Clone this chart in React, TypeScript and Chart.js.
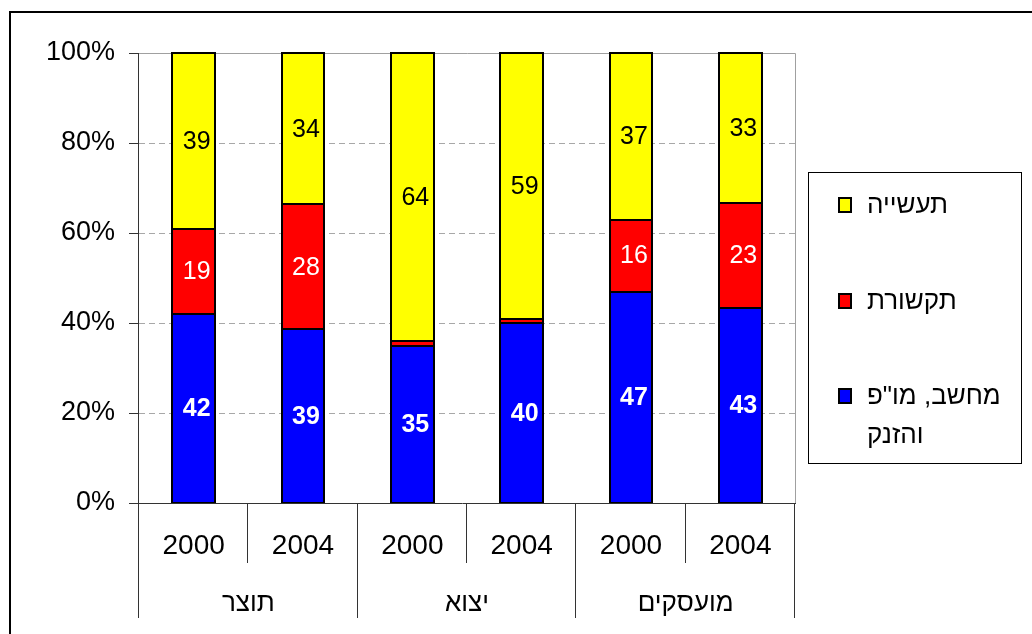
import React, { useEffect, useRef } from "react";
import { Chart, registerables } from "chart.js";

Chart.register(...registerables);

const years = ["2000", "2004", "2000", "2004", "2000", "2004"];
const groups = ["תוצר", "יצוא", "מועסקים"];
const seriesNames = ['מחשב, מו"פ והזנק', "תקשורת", "תעשייה"];
const legendLines = [['מחשב, מו"פ', "והזנק"], ["תקשורת"], ["תעשייה"]];
const blueValues = [42, 39, 35, 40, 47, 43];
const redValues = [19, 28, 1, 1, 16, 23];
const yellowValues = [39, 34, 64, 59, 37, 33];
const seriesColors = ["#0000FF", "#FF0000", "#FFFF00"];
const yTicks = [0, 20, 40, 60, 80, 100];

const FONT = '"Liberation Sans", Arial, sans-serif';

export default function App() {
  const ref = useRef<HTMLCanvasElement | null>(null);

  useEffect(() => {
    const canvas = ref.current;
    if (!canvas) return;
    const raw = [blueValues, redValues, yellowValues];
    const totals = years.map((_, i) => raw.reduce((s, arr) => s + arr[i], 0));
    const pct = raw.map((arr) => arr.map((v, i) => (v / totals[i]) * 100));

    const labelStyles = [
      { color: "#FFFFFF", weight: "bold" },
      { color: "#FFFFFF", weight: "normal" },
      { color: "#000000", weight: "normal" },
    ];

    const framePlugin = {
      id: "framePlugin",
      beforeDraw(chart: any) {
        const ctx = chart.ctx;
        ctx.save();
        ctx.fillStyle = "#FFFFFF";
        ctx.fillRect(0, 0, chart.width, chart.height);
        ctx.fillStyle = "#000000";
        ctx.fillRect(9, 11, 2, chart.height - 11);
        ctx.fillRect(9, 11, chart.width - 9, 2);
        ctx.restore();
      },
      beforeDatasetsDraw(chart: any) {
        const ctx = chart.ctx;
        const a = chart.chartArea;
        ctx.save();
        ctx.strokeStyle = "#A0A0A0";
        ctx.lineWidth = 1;
        ctx.beginPath();
        ctx.moveTo(Math.round(a.left), Math.round(a.top) + 0.5);
        ctx.lineTo(Math.round(a.right) + 0.5, Math.round(a.top) + 0.5);
        ctx.lineTo(Math.round(a.right) + 0.5, Math.round(a.bottom));
        ctx.stroke();
        ctx.restore();
      },
      afterDatasetsDraw(chart: any) {
        const ctx = chart.ctx;
        const a = chart.chartArea;
        const xs = chart.scales.x;
        ctx.save();

        ctx.strokeStyle = "#000000";
        ctx.lineWidth = 2;
        chart.data.datasets.forEach((_: any, di: number) => {
          const meta = chart.getDatasetMeta(di);
          meta.data.forEach((el: any) => {
            const p = el.getProps(["x", "y", "base", "width"], true);
            const l = Math.round(p.x - p.width / 2);
            const r = Math.round(p.x + p.width / 2);
            ctx.strokeRect(l, Math.round(p.y), r - l, Math.round(p.base) - Math.round(p.y));
          });
        });

        ctx.strokeStyle = "#333333";
        ctx.lineWidth = 1;
        ctx.beginPath();
        ctx.moveTo(Math.round(a.left) - 0.5, Math.round(a.top));
        ctx.lineTo(Math.round(a.left) - 0.5, Math.round(a.bottom));
        ctx.moveTo(Math.round(a.left) - 10, Math.round(a.bottom) + 0.5);
        ctx.lineTo(Math.round(a.right) + 1, Math.round(a.bottom) + 0.5);
        ctx.stroke();

        const half = (a.right - a.left) / years.length / 2;
        ctx.beginPath();
        for (let i = 0; i <= years.length; i++) {
          const x =
            i < years.length
              ? xs.getPixelForValue(i) - half
              : xs.getPixelForValue(years.length - 1) + half;
          const px = Math.round(x) - 0.5;
          const long = i % 2 === 0;
          ctx.moveTo(px, Math.round(a.bottom));
          ctx.lineTo(px, long ? 618 : 563);
        }
        ctx.stroke();

        ctx.fillStyle = "#000000";
        ctx.font = `28px ${FONT}`;
        ctx.textAlign = "center";
        ctx.textBaseline = "middle";
        years.forEach((y, i) => {
          ctx.fillText(y, xs.getPixelForValue(i), 546);
        });
        ctx.font = `26px ${FONT}`;
        ctx.direction = "rtl";
        groups.forEach((g, gi) => {
          const cx = (xs.getPixelForValue(gi * 2) + xs.getPixelForValue(gi * 2 + 1)) / 2;
          ctx.fillText(g, cx, 604);
        });
        ctx.direction = "ltr";

        chart.data.datasets.forEach((_: any, di: number) => {
          const meta = chart.getDatasetMeta(di);
          meta.data.forEach((el: any, i: number) => {
            const v = raw[di][i];
            if (v < 5) return;
            const p = el.getProps(["x", "y", "base"], true);
            const st = labelStyles[di];
            ctx.fillStyle = st.color;
            ctx.font = `${st.weight} 25px ${FONT}`;
            ctx.textAlign = "center";
            ctx.textBaseline = "middle";
            ctx.fillText(String(v), p.x + 3, (p.y + p.base) / 2 + 1);
          });
        });
        ctx.restore();
      },
      afterDraw(chart: any) {
        const ctx = chart.ctx;
        ctx.save();
        ctx.strokeStyle = "#000000";
        ctx.lineWidth = 1;
        ctx.strokeRect(808.5, 172.5, 213, 291);
        const rowY = [396, 301, 205];
        ctx.font = `26px ${FONT}`;
        ctx.textBaseline = "middle";
        ctx.textAlign = "left";
        for (let k = seriesNames.length - 1; k >= 0; k--) {
          const cy = rowY[k];
          ctx.fillStyle = seriesColors[k];
          ctx.fillRect(838, cy - 8, 14, 16);
          ctx.strokeStyle = "#000000";
          ctx.lineWidth = 2;
          ctx.strokeRect(839, cy - 7, 12, 14);
          ctx.fillStyle = "#000000";
          ctx.direction = "rtl";
          legendLines[k].forEach((line, li) => {
            ctx.textAlign = "left";
            ctx.fillText(line, 867, cy + 1 + li * 39);
          });
          ctx.direction = "ltr";
        }
        ctx.restore();
      },
    };

    const chart = new Chart(canvas, {
      type: "bar",
      data: {
        labels: years,
        datasets: seriesNames.map((name, di) => ({
          label: name,
          data: pct[di],
          backgroundColor: seriesColors[di],
          borderWidth: 0,
          barPercentage: 0.39,
          categoryPercentage: 1,
        })),
      },
      options: {
        animation: false,
        responsive: false,
        devicePixelRatio: 1,
        layout: { padding: { left: 0, top: 53, right: 237, bottom: 131 } },
        plugins: {
          legend: { display: false },
          tooltip: { enabled: false },
          title: { display: false },
        },
        scales: {
          x: {
            stacked: true,
            display: false,
          },
          y: {
            stacked: true,
            min: 0,
            max: 100,
            afterFit(scale: any) {
              scale.width = 139;
            },
            afterBuildTicks(scale: any) {
              scale.ticks = yTicks.map((v) => ({ value: v }));
            },
            ticks: {
              padding: 14,
              color: "#000000",
              font: { family: FONT, size: 27 },
              callback: (v: any) => `${v}%`,
            },
            grid: {
              color: (c: any) =>
                c.tick && (c.tick.value === 0 || c.tick.value === 100)
                  ? "rgba(0,0,0,0)"
                  : "#A8A8A8",
              tickColor: "#333333",
              tickLength: 10,
              tickBorderDash: [],
              lineWidth: 1,
            },
            border: { display: false, dash: [6, 4] },
          },
        },
      },
      plugins: [framePlugin],
    } as any);

    return () => chart.destroy();
  }, []);

  return (
    <div style={{ position: "absolute", left: 0, top: 0, width: 1032, height: 634 }}>
      <canvas ref={ref} width={1032} height={634} style={{ width: 1032, height: 634, display: "block" }} />
    </div>
  );
}
